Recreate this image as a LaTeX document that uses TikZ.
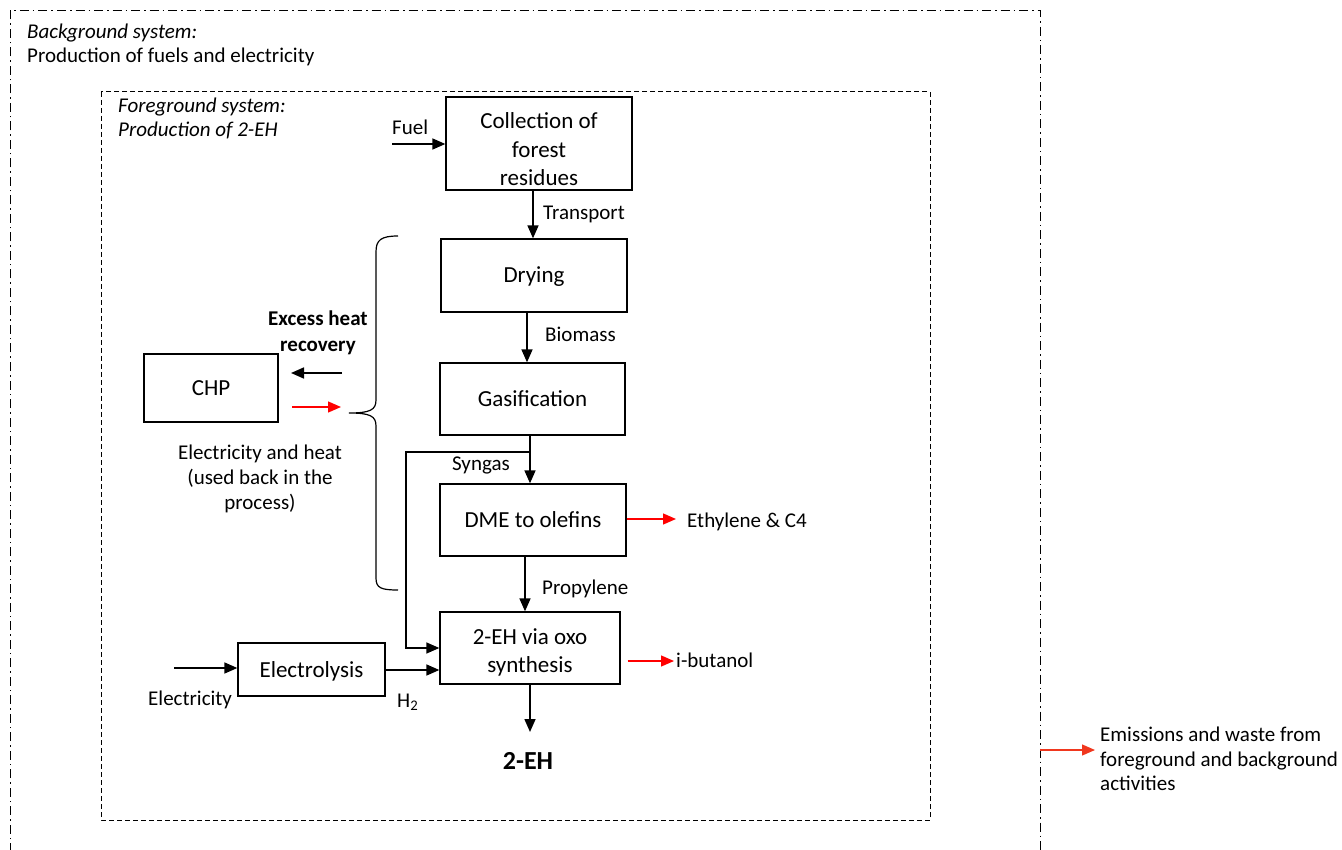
\documentclass[tikz,border=0pt]{standalone}
\usepackage{fontspec}
\setmainfont{Carlito}
\usetikzlibrary{arrows.meta}
\begin{document}
\begin{tikzpicture}[x=1pt,y=-1pt,
  box/.style={draw,line width=1.3pt,rectangle,align=center,inner sep=0pt,
    font=\fontsize{23}{28.5}\selectfont},
  onebox/.style={box,text height=21pt,text depth=6pt},
  lbl/.style={inner sep=0pt,font=\fontsize{21}{24.5}\selectfont},
  flow/.style={line width=1.6pt,-{Triangle[length=13pt,width=11pt]}},
  redflow/.style={flow,red,line width=1.3pt},
  conn/.style={line width=1.3pt}
]
\useasboundingbox (0,0) rectangle (1342,850);
% background and foreground system borders
\draw[line width=1pt,dash pattern=on 9pt off 4pt on 1.5pt off 4pt] (10,852) -- (10,11) -- (1040,11) -- (1040,852);
\draw[line width=1pt,dash pattern=on 5pt off 3pt] (101,92) rectangle (930,820);
\node[lbl,anchor=base west,font=\fontsize{21}{24.5}\selectfont\itshape] (bgt) at (27,39) {Background system:};
\node[lbl,anchor=base west] (bgs) at (27,63) {Production of fuels and electricity};
\node[lbl,anchor=base west,font=\fontsize{21}{24.5}\selectfont\itshape] (fgt) at (118,113) {Foreground system:};
\node[lbl,anchor=base west,font=\fontsize{21}{24.5}\selectfont\itshape] (fgs) at (118,137) {Production of 2-EH};
% process boxes
\node[box,minimum width=186pt,minimum height=93pt] (coll) at (539,143.5)
  {\raisebox{-8pt}[\height][\depth]{\begin{tabular}{@{}c@{}}Collection of\\forest\\residues\end{tabular}}};
\node[onebox,minimum width=186pt,minimum height=73pt] (dry) at (534,275.5) {Drying};
\node[onebox,minimum width=185pt,minimum height=72pt] (gas) at (532.5,399) {Gasification};
\node[onebox,minimum width=186pt,minimum height=72pt] (dme) at (533,520) {DME to olefins};
\node[box,minimum width=180pt,minimum height=72pt] (oxo) at (530,648)
  {\raisebox{-5pt}[\height][\depth]{\begin{tabular}{@{}c@{}}2-EH via oxo\\synthesis\end{tabular}}};
\node[onebox,minimum width=147pt,minimum height=53pt] (elec) at (311.5,669.5) {Electrolysis};
\node[onebox,minimum width=134pt,minimum height=68pt] (chp) at (211,388) {CHP};
% labels
\node[lbl,anchor=base west] (fuel) at (392,135) {Fuel};
\node[lbl,anchor=base west] (trans) at (543,220) {Transport};
\node[lbl,anchor=base west] (bio) at (545,342) {Biomass};
\node[lbl,anchor=base east] (syn) at (510,470) {Syngas};
\node[lbl,anchor=base west] (eth) at (687,527) {Ethylene \& C4};
\node[lbl,anchor=base west] (prop) at (542,594) {Propylene};
\node[lbl,anchor=base west] (ibu) at (676,667) {i-butanol};
\node[lbl,anchor=base west] (elt) at (148,705) {Electricity};
\node[lbl,anchor=base west] (h2) at (397,707) {H\textsubscript{2}};
\node[lbl,anchor=base,font=\fontsize{26}{30}\selectfont\bfseries] (eh) at (528,769) {2-EH};
\node[lbl,align=center,font=\fontsize{21}{25.5}\selectfont\bfseries] (exc) at (318,333) {Excess heat\\recovery};
\node[lbl,align=center,font=\fontsize{21}{25}\selectfont] (eah) at (260,479) {Electricity and heat\\(used back in the\\process)};
\node[lbl,align=left,anchor=west] (emi) at (1100,759) {Emissions and waste from\\foreground and background\\activities};
% free ends
\coordinate (fuelS) at (392,144);
\coordinate (elS) at (174,668);
\coordinate (ethE) at (676,519);
\coordinate (ibuE) at (674,661);
\coordinate (ehE) at (530,732);
\coordinate (hrS) at (342,373);
\coordinate (hrE) at (291,373);
\coordinate (ehS) at (292,407);
\coordinate (ehT) at (341,407);
\coordinate (emS) at (1040,750);
\coordinate (emE) at (1095,750);
\coordinate (synB) at (530,452);
% connectors
\draw[flow] (fuelS) -- (fuelS -| coll.west);
\draw[flow] (coll.south -| 533,0) -- (dry.north -| 533,0);
\draw[flow] (dry.south -| 527,0) -- (gas.north -| 527,0);
\draw[flow] (gas.south -| 530,0) -- (dme.north -| 530,0);
\draw[flow] (dme.south -| 525,0) -- (oxo.north -| 525,0);
\draw[flow] (oxo.south -| ehE) -- (ehE);
\draw[conn,-{Triangle[length=13pt,width=11pt]}] (synB) -- (406,452) -- (406,648) -- (oxo.west |- 0,648);
\draw[flow] (elS) -- (elec.west |- elS);
\draw[flow] (elec.east |- 0,670) -- (oxo.west |- 0,670);
\draw[redflow] (dme.east |- ethE) -- (ethE);
\draw[redflow] (oxo.east |- ibuE) ++(7,0) -- (ibuE);
\draw[flow] (hrS) -- (hrE);
\draw[redflow] (ehS) -- (ehT);
\draw[redflow,color={rgb,255:red,240;green,55;blue,30}] (emS) -- (emE);
% brace
\draw[line width=1.2pt] (398,236) .. controls (381,236) and (376,240) .. (376,252) -- (376,400)
  .. controls (376,410) and (370,413) .. (349,413)
  .. controls (370,413) and (376,416) .. (376,426) -- (376,578)
  .. controls (376,588) and (381,590) .. (398,590);
\end{tikzpicture}
\end{document}
